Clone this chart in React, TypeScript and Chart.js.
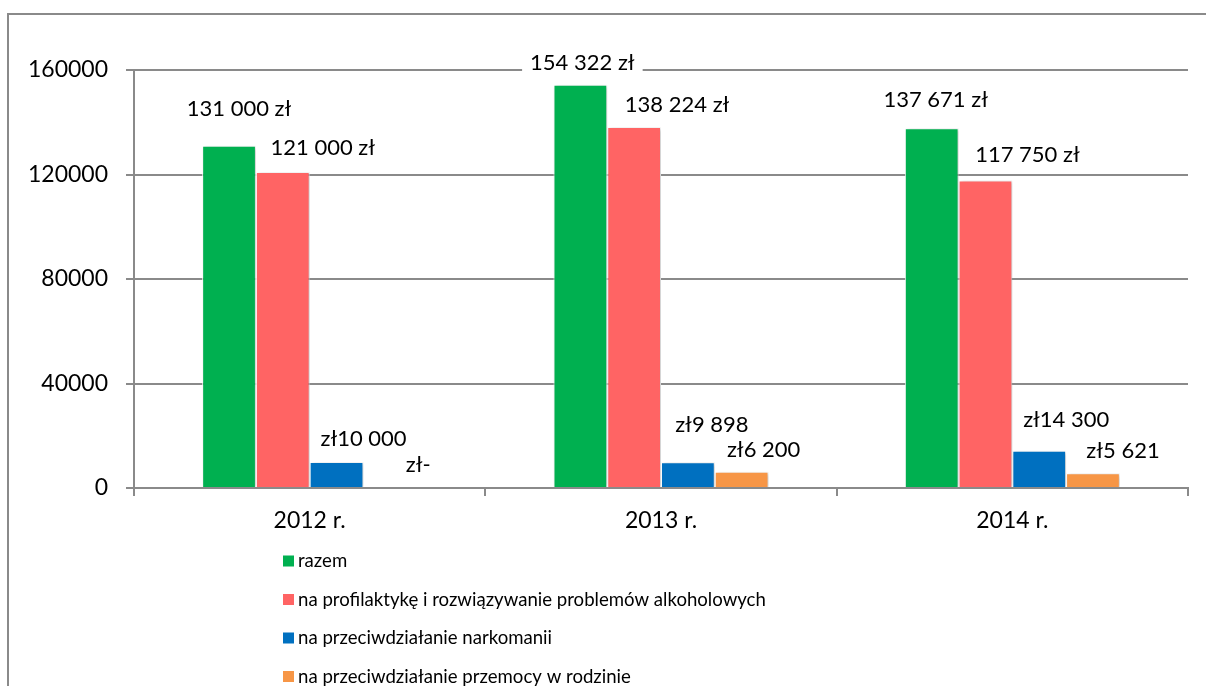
import React, { useEffect, useRef } from "react";
import { Chart, registerables } from "chart.js";
Chart.register(...registerables);

const categories = ["2012 r.", "2013 r.", "2014 r."];
const seriesNames = [
  "razem",
  "na profilaktykę i rozwiązywanie problemów alkoholowych",
  "na przeciwdziałanie narkomanii",
  "na przeciwdziałanie przemocy w rodzinie",
];
const razem = [131000, 154322, 137671];
const alkohol = [121000, 138224, 117750];
const narkomania = [10000, 9898, 14300];
const przemoc = [0, 6200, 5621];
const yTicks = [0, 40000, 80000, 120000, 160000];
const colors = ["#00B050", "#FF6464", "#0070C0", "#F79646"];
// data-label placement offsets (px) relative to each bar's top centre (manual layout of the original)
const labelDx = [[10, 2, 4], [40, 43, 42], [27, 24, 27], [28, 22, 30]];
const labelDy = [[-37, -22, -28], [-24, -22, -25], [-23, -37, -31], [-23, -22, -22]];

const GRID = "#8a8a8a";
const FONT = "Lato";

function groupDigits(v: number): string {
  return String(Math.round(v)).replace(/\B(?=(\d{3})+(?!\d))/g, " ");
}
function labelText(series: number, v: number): string {
  if (series < 2) return `${groupDigits(v)} zł`;
  if (v === 0) return "zł-";
  return `zł${groupDigits(v)}`;
}

const shadowPlugin = {
  id: "barShadow",
  beforeDatasetsDraw(chart: any) {
    const c = chart.ctx;
    c.save();
    c.shadowColor = "rgba(0,0,0,0.22)";
    c.shadowBlur = 4;
    c.shadowOffsetX = 2;
    c.shadowOffsetY = 1;
  },
  afterDatasetsDraw(chart: any) {
    chart.ctx.restore();
  },
};

const labelsPlugin = {
  id: "valueLabels",
  afterDatasetsDraw(chart: any) {
    const ctx = chart.ctx;
    ctx.save();
    ctx.font = `22px ${FONT}`;
    ctx.textAlign = "center";
    ctx.textBaseline = "middle";
    chart.data.datasets.forEach((ds: any, i: number) => {
      const meta = chart.getDatasetMeta(i);
      meta.data.forEach((bar: any, j: number) => {
        const text = labelText(i, ds.data[j]);
        const x = bar.x + labelDx[i][j];
        const y = bar.y + labelDy[i][j];
        const w = ctx.measureText(text).width;
        ctx.fillStyle = "#fff";
        ctx.fillRect(x - w / 2 - 8, y - 11, w + 16, 22);
        ctx.fillStyle = "#000";
        ctx.fillText(text, x, y);
      });
    });
    ctx.restore();
  },
};

const legendPlugin = {
  id: "verticalLegend",
  afterDraw(chart: any) {
    const ctx = chart.ctx;
    ctx.save();
    ctx.font = `18.6px ${FONT}`;
    ctx.textAlign = "left";
    ctx.textBaseline = "middle";
    chart.data.datasets.forEach((ds: any, i: number) => {
      const y = 561 + i * 38.5;
      ctx.fillStyle = ds.backgroundColor;
      ctx.fillRect(283, y - 5.5, 11, 11);
      ctx.fillStyle = "#000";
      ctx.fillText(ds.label, 298, y);
    });
    ctx.restore();
  },
};

export default function App() {
  const ref = useRef<HTMLCanvasElement>(null);
  useEffect(() => {
    const values = [razem, alkohol, narkomania, przemoc];
    const chart = new Chart(ref.current as HTMLCanvasElement, {
      type: "bar",
      data: {
        labels: categories,
        datasets: values.map((d, i) => ({
          label: seriesNames[i],
          data: d,
          backgroundColor: colors[i],
          borderColor: "#ffffff",
          borderWidth: 1,
          borderSkipped: "bottom",
          categoryPercentage: 0.612,
          barPercentage: 1,
        })),
      },
      options: {
        responsive: false,
        animation: false,
        devicePixelRatio: 1,
        layout: { padding: { top: 70, right: 18, bottom: 148, left: 0 } },
        plugins: { legend: { display: false }, tooltip: { enabled: false } },
        scales: {
          x: {
            grid: { offset: true, drawOnChartArea: false, tickLength: 8, color: GRID, lineWidth: 2 },
            border: { color: GRID, width: 2 },
            ticks: { font: { family: FONT, size: 23 }, color: "#000", padding: 11 },
            afterFit: (s: any) => {
              s.height = 50;
            },
          },
          y: {
            min: 0,
            max: 160000,
            afterBuildTicks: (s: any) => {
              s.ticks = yTicks.map((v) => ({ value: v }));
            },
            grid: { color: GRID, lineWidth: 2, tickLength: 8 },
            border: { color: GRID, width: 2 },
            ticks: {
              font: { family: FONT, size: 23 },
              color: "#000",
              padding: 18,
              callback: (v: any) => String(v),
            },
            afterFit: (s: any) => {
              s.width = 134;
            },
          },
        },
      },
      plugins: [shadowPlugin, labelsPlugin, legendPlugin],
    } as any);
    return () => chart.destroy();
  }, []);
  return (
    <div style={{ position: "fixed", left: 0, top: 0, width: 1206, height: 686, overflow: "hidden", background: "#fff" }}>
      <div
        style={{
          position: "absolute",
          left: 7,
          top: 13,
          width: 1240,
          height: 740,
          border: `2px solid ${GRID}`,
          boxSizing: "border-box",
        }}
      />
      <canvas
        ref={ref}
        width={1206}
        height={686}
        style={{ position: "absolute", left: 0, top: 0, width: 1206, height: 686 }}
      />
    </div>
  );
}
